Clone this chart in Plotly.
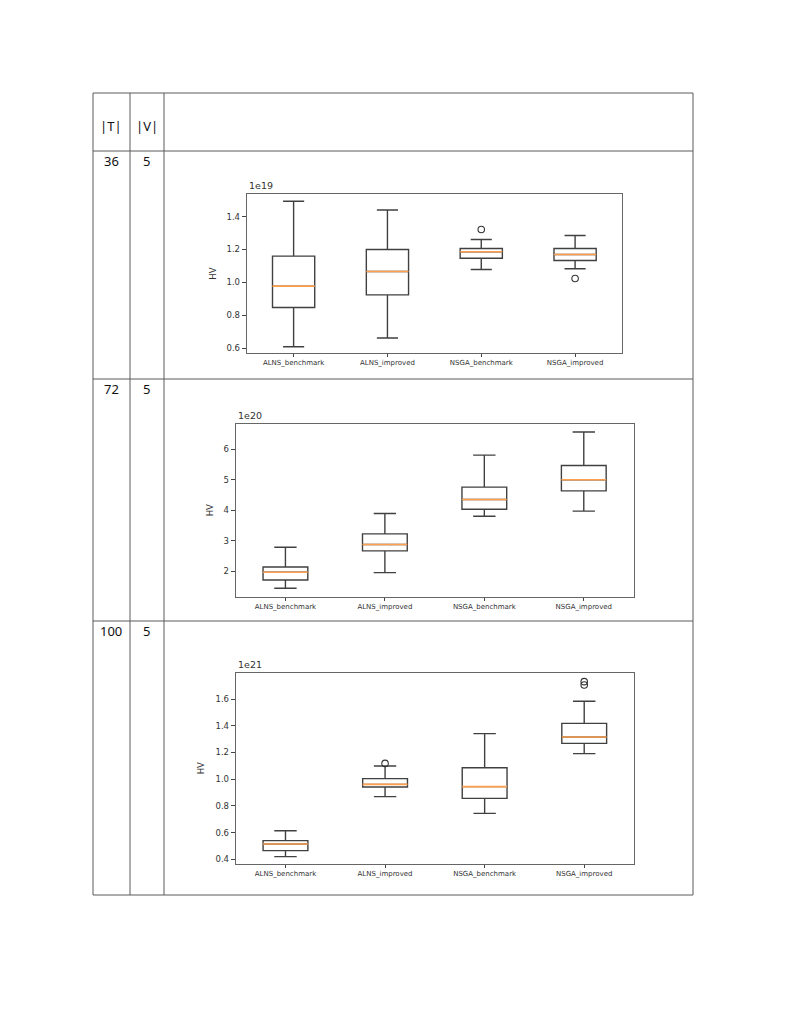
import plotly.graph_objects as go

W, H = 793, 1026
PAD = 8  # page body margin around the plot div

categories = ['ALNS_benchmark', 'ALNS_improved', 'NSGA_benchmark', 'NSGA_improved']
positions = [1, 2, 3, 4]

# |T| = 36, values in 1e19
q1_36 = [0.848, 0.925, 1.147, 1.133]
med_36 = [0.978, 1.067, 1.186, 1.170]
q3_36 = [1.160, 1.200, 1.206, 1.206]
lo_36 = [0.610, 0.663, 1.079, 1.083]
hi_36 = [1.493, 1.440, 1.261, 1.285]
out_x_36 = [3, 4]
out_y_36 = [1.321, 1.024]

# |T| = 72, values in 1e20
q1_72 = [1.715, 2.668, 4.038, 4.641]
med_72 = [1.967, 2.877, 4.356, 5.003]
q3_72 = [2.142, 3.227, 4.762, 5.474]
lo_72 = [1.441, 1.956, 3.808, 3.973]
hi_72 = [2.789, 3.896, 5.814, 6.570]
out_x_72 = []
out_y_72 = []

# |T| = 100, values in 1e21
q1_100 = [0.465, 0.941, 0.856, 1.268]
med_100 = [0.515, 0.961, 0.944, 1.316]
q3_100 = [0.540, 1.004, 1.086, 1.418]
lo_100 = [0.420, 0.869, 0.744, 1.191]
hi_100 = [0.614, 1.099, 1.341, 1.583]
out_x_100 = [2, 4, 4]
out_y_100 = [1.118, 1.730, 1.705]

rows_T = ['36', '72', '100']
rows_V = ['5', '5', '5']

panels = [
    dict(q1=q1_36, med=med_36, q3=q3_36, lo=lo_36, hi=hi_36, ox=out_x_36, oy=out_y_36,
         box=(246.7, 622, 194.3, 353), yr=[0.572, 1.535],
         yt=[0.6, 0.8, 1.0, 1.2, 1.4], off='1e19', hv=213),
    dict(q1=q1_72, med=med_72, q3=q3_72, lo=lo_72, hi=hi_72, ox=out_x_72, oy=out_y_72,
         box=(235.7, 633.5, 424, 596.7), yr=[1.165, 6.835],
         yt=[2, 3, 4, 5, 6], off='1e20', hv=210),
    dict(q1=q1_100, med=med_100, q3=q3_100, lo=lo_100, hi=hi_100, ox=out_x_100, oy=out_y_100,
         box=(235.7, 634, 672.7, 864), yr=[0.365, 1.797],
         yt=[0.4, 0.6, 0.8, 1.0, 1.2, 1.4, 1.6], off='1e21', hv=201),
]


def px(x):
    return (x - PAD) / W


def py(y):
    return 1 - (y - PAD) / H


fig = go.Figure()
layout = dict(width=W, height=H, margin=dict(l=0, r=0, t=0, b=0),
              paper_bgcolor='white', plot_bgcolor='white', showlegend=False,
              font=dict(family='DejaVu Sans', color='#222'))
shapes = []
annotations = []

box_line = '#404040'
median_col = '#ffa04f'

for i, p in enumerate(panels):
    n = '' if i == 0 else str(i + 1)
    xa, ya = 'x' + n, 'y' + n
    for k in range(4):
        fig.add_trace(go.Box(
            x=[positions[k]], q1=[p['q1'][k]], median=[p['med'][k]], q3=[p['q3'][k]],
            lowerfence=[p['lo'][k]], upperfence=[p['hi'][k]],
            width=0.45, whiskerwidth=0.5, fillcolor='white',
            line=dict(color=box_line, width=1.4), boxpoints=False,
            xaxis=xa, yaxis=ya, hoverinfo='skip'))
    mx, my = [], []
    for k in range(4):
        mx += [positions[k] - 0.225, positions[k] + 0.225, None]
        my += [p['med'][k], p['med'][k], None]
    fig.add_trace(go.Scatter(x=mx, y=my, mode='lines',
                             line=dict(color=median_col, width=1.6),
                             xaxis=xa, yaxis=ya, hoverinfo='skip'))
    if p['ox']:
        fig.add_trace(go.Scatter(x=p['ox'], y=p['oy'], mode='markers',
                                 marker=dict(symbol='circle-open', size=6.5,
                                             color='#333', line=dict(width=1.1)),
                                 xaxis=xa, yaxis=ya, hoverinfo='skip'))
    x0, x1, y0, y1 = p['box']
    layout['xaxis' + n] = dict(
        domain=[px(x0), px(x1)], range=[0.5, 4.5], anchor=ya,
        tickvals=positions, ticktext=categories, ticks='outside', ticklen=3,
        tickcolor='#444', tickfont=dict(size=7, color='#333'),
        showline=True, linecolor='#666', linewidth=1, mirror=True,
        showgrid=False, zeroline=False, fixedrange=True)
    layout['yaxis' + n] = dict(
        domain=[py(y1), py(y0)], range=p['yr'], anchor=xa,
        tickvals=p['yt'], ticktext=[('%.1f' % v) if i != 1 else str(int(v)) for v in p['yt']],
        ticks='outside', ticklen=4, tickcolor='#444',
        tickfont=dict(size=8.5, color='#333'),
        showline=True, linecolor='#666', linewidth=1, mirror=True,
        showgrid=False, zeroline=False, fixedrange=True)
    annotations.append(dict(x=px(x0), y=py(y0 - 1), xref='paper', yref='paper',
                            text=p['off'], showarrow=False, xanchor='left',
                            yanchor='bottom', font=dict(size=9.5, color='#333')))
    annotations.append(dict(x=px(p['hv']), y=py((y0 + y1) / 2), xref='paper', yref='paper',
                            text='HV', textangle=-90, showarrow=False,
                            xanchor='center', yanchor='middle',
                            font=dict(size=8.5, color='#333')))

# table grid
line_col = '#5a5a5a'
for y in [93, 151, 379, 621, 895]:
    shapes.append(dict(type='line', xref='paper', yref='paper',
                       x0=px(93), x1=px(693), y0=py(y), y1=py(y),
                       line=dict(color=line_col, width=1)))
for x in [93, 130, 164, 693]:
    shapes.append(dict(type='line', xref='paper', yref='paper',
                       x0=px(x), x1=px(x), y0=py(93), y1=py(895),
                       line=dict(color=line_col, width=1)))

cell_font = dict(family='Noto Sans', size=13, color='#111')


def cell(x, y, t):
    annotations.append(dict(x=px(x), y=py(y), xref='paper', yref='paper', text=t,
                            showarrow=False, xanchor='center', yanchor='middle',
                            font=cell_font))


cell(111.5, 126, '|T|')
cell(147, 126, '|V|')
for t, v, yl in zip(rows_T, rows_V, [151, 379, 621]):
    cell(111.5, yl + 10, t)
    cell(146.5, yl + 10, v)

layout['shapes'] = shapes
layout['annotations'] = annotations
fig.update_layout(**layout)
fig.write_html("out.html")
